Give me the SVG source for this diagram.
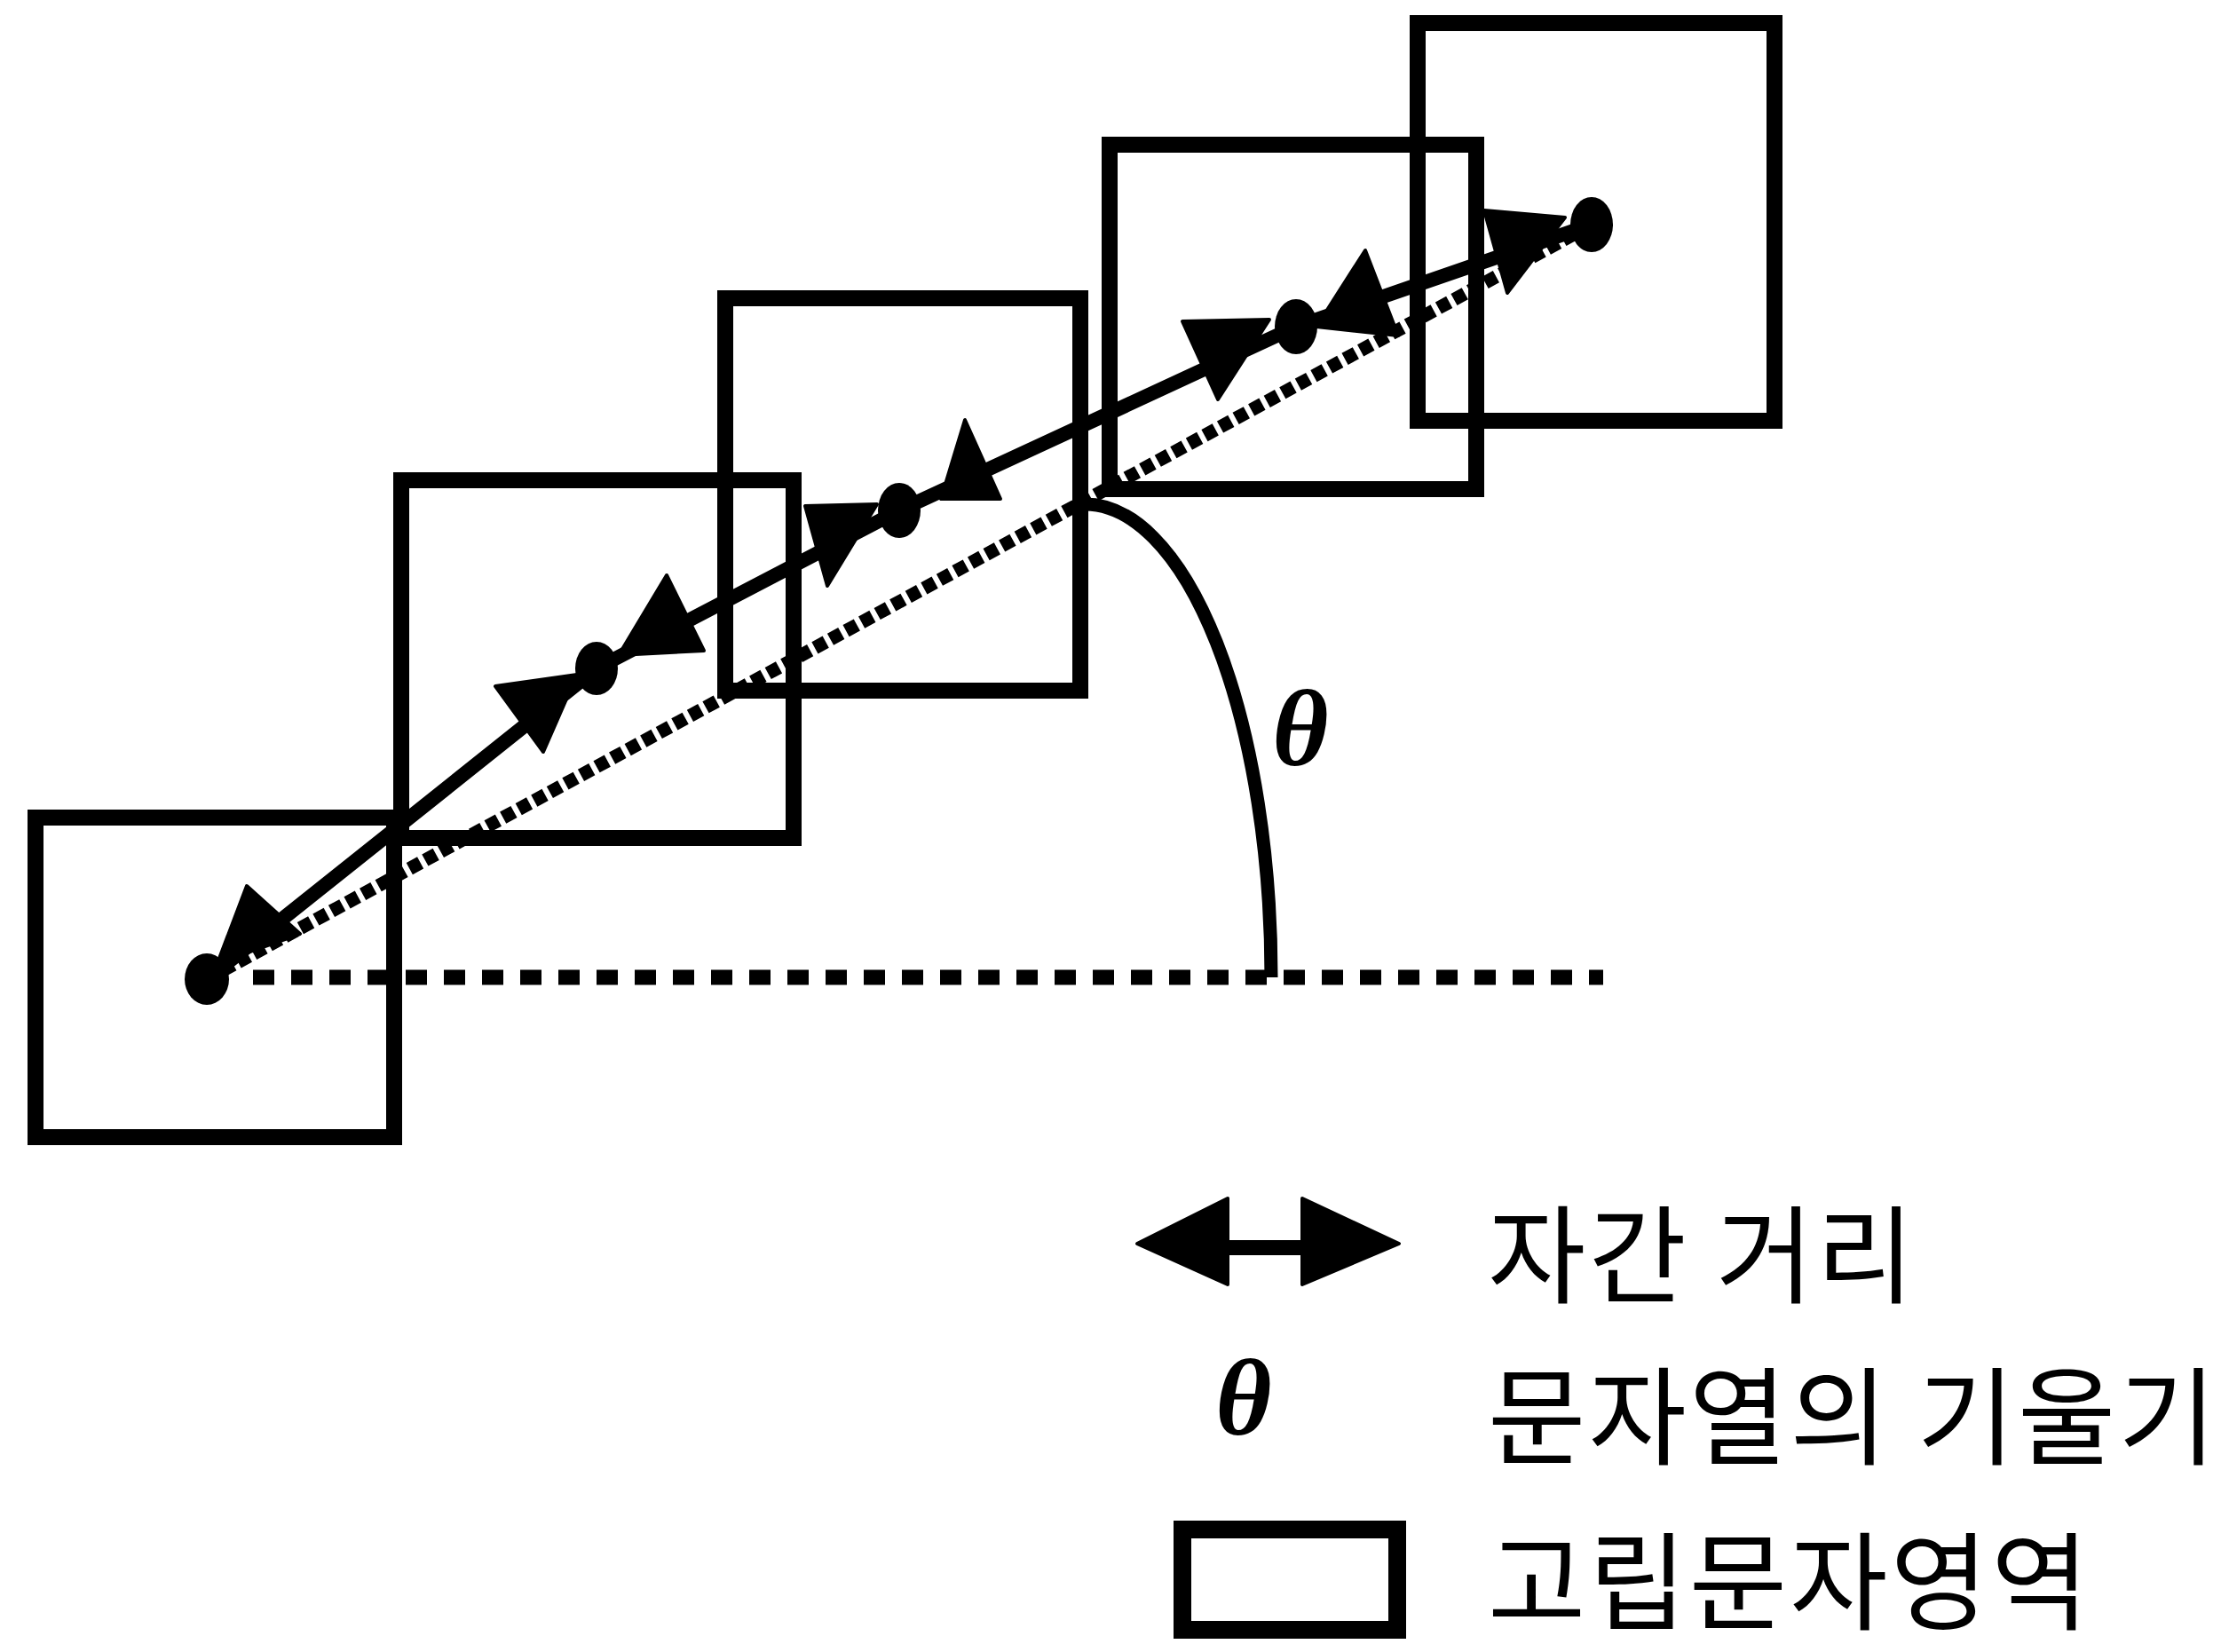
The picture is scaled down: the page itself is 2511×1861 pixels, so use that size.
<svg xmlns="http://www.w3.org/2000/svg" width="2511" height="1861" viewBox="0 0 2511 1861">
<style>
.box{fill:none;stroke:#000;stroke-width:18}
.main{fill:none;stroke:#000;stroke-width:16;stroke-linejoin:round}
.slant{fill:none;stroke:#000;stroke-width:15;stroke-dasharray:14 6}
.horiz{fill:none;stroke:#000;stroke-width:17;stroke-dasharray:24 19}
.arc{fill:none;stroke:#000;stroke-width:15}
.head{fill:#000;stroke:#000;stroke-width:4;stroke-linejoin:round}
.dot{fill:#000}
.theta{font-family:"Liberation Serif","DejaVu Serif",serif;font-style:italic;font-weight:bold;font-size:122px;fill:#000}
.kr{font-family:"Noto Sans CJK KR","Noto Sans CJK SC",sans-serif;font-size:120px;letter-spacing:3px;fill:#000}
</style>
<rect width="2511" height="1861" fill="#fff"/>
<g id="box1"><rect class="box" x="40" y="921" width="404" height="360"/></g>
<g id="box2"><rect class="box" x="452" y="541" width="442" height="403"/></g>
<g id="box3"><rect class="box" x="817" y="336" width="400" height="442"/></g>
<g id="box4"><rect class="box" x="1250" y="163" width="413" height="388"/></g>
<g id="box5"><rect class="box" x="1597" y="26" width="402" height="448"/></g>
<g id="connectors">
<line class="horiz" x1="285" y1="1101" x2="1806" y2="1101"/>
<line class="slant" x1="233" y1="1103" x2="1793" y2="253"/>
<path class="arc" d="M1222,568 A210,533 0 0 1 1432,1101"/>
<polyline class="main" points="233,1103 672,753 1013,575 1460,368 1793,253"/>
<polygon class="head" points="278,998 338,1052 245,1085"/>
<polygon class="head" points="558,773 650,760 612,847"/>
<polygon class="head" points="697,738 793,733 751,648"/>
<polygon class="head" points="907,570 988,568 932,660"/>
<polygon class="head" points="1060,562 1127,562 1087,473"/>
<polygon class="head" points="1332,362 1430,360 1372,450"/>
<polygon class="head" points="1483,368 1575,378 1538,282"/>
<polygon class="head" points="1672,237 1763,245 1698,330"/>
<ellipse class="dot" cx="233" cy="1103" rx="25" ry="29"/>
<ellipse class="dot" cx="672" cy="753" rx="24" ry="30"/>
<ellipse class="dot" cx="1013" cy="575" rx="24" ry="31"/>
<ellipse class="dot" cx="1460" cy="368" rx="24" ry="31"/>
<ellipse class="dot" cx="1793" cy="253" rx="24" ry="31"/>
</g>
<text class="theta" x="1465" y="862" text-anchor="middle">θ</text>
<g id="legend">
<polygon class="head" points="1281,1401 1383,1350 1383,1447"/>
<rect x="1383" y="1397" width="84" height="17" fill="#000"/>
<polygon class="head" points="1467,1350 1576,1401 1467,1447"/>
<text class="kr" x="1676" y="1459">자간 거리</text>
<text class="theta" x="1401" y="1616" text-anchor="middle">θ</text>
<text class="kr" x="1676" y="1641">문자열의 기울기</text>
<rect x="1332" y="1723" width="242" height="113" fill="none" stroke="#000" stroke-width="20"/>
<text class="kr" x="1676" y="1827">고립문자영역</text>
</g>
</svg>
